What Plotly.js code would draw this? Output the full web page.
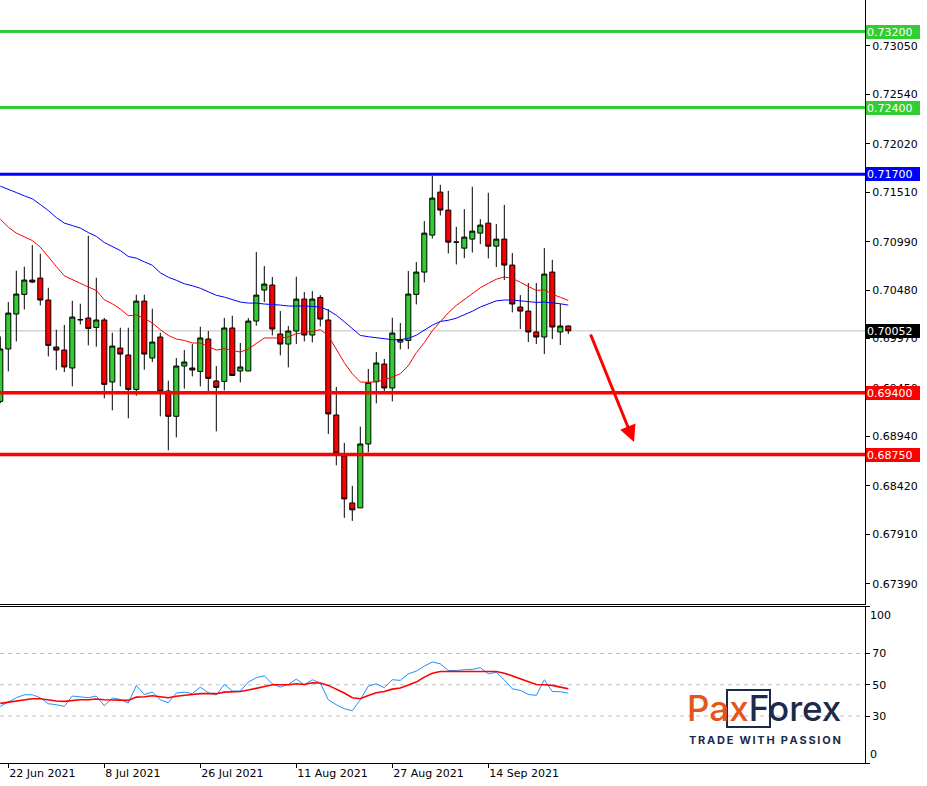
<!DOCTYPE html>
<html><head><meta charset="utf-8">
<script src="https://cdn.plot.ly/plotly-3.0.1.min.js"></script>
<style>html,body{margin:0;padding:0;background:#fff;}#chart{width:927px;height:786px;}</style>
</head><body><div id="chart"></div>
<script>
const dates = ['2021-06-21','2021-06-22','2021-06-23','2021-06-24','2021-06-25',
'2021-06-28','2021-06-29','2021-06-30','2021-07-01','2021-07-02',
'2021-07-05','2021-07-06','2021-07-07','2021-07-08','2021-07-09',
'2021-07-12','2021-07-13','2021-07-14','2021-07-15','2021-07-16',
'2021-07-19','2021-07-20','2021-07-21','2021-07-22','2021-07-23',
'2021-07-26','2021-07-27','2021-07-28','2021-07-29','2021-07-30',
'2021-08-02','2021-08-03','2021-08-04','2021-08-05','2021-08-06',
'2021-08-09','2021-08-10','2021-08-11','2021-08-12','2021-08-13',
'2021-08-16','2021-08-17','2021-08-18','2021-08-19','2021-08-20',
'2021-08-23','2021-08-24','2021-08-25','2021-08-26','2021-08-27',
'2021-08-30','2021-08-31','2021-09-01','2021-09-02','2021-09-03',
'2021-09-06','2021-09-07','2021-09-08','2021-09-09','2021-09-10',
'2021-09-13','2021-09-14','2021-09-15','2021-09-16','2021-09-17',
'2021-09-20','2021-09-21','2021-09-22','2021-09-23','2021-09-24',
'2021-09-27','2021-09-28'];

const openP = [0.69310,0.69861,0.70229,0.70435,0.70586,0.70607,0.70376,0.69882,0.69850,0.69661,
0.70169,0.70187,0.70088,0.70166,0.69514,0.69871,0.69798,0.69436,0.70365,0.69766,
0.69987,0.69419,0.69153,0.69682,0.69661,0.69625,0.69966,0.69525,0.69520,0.70082,
0.69630,0.69630,0.70155,0.70481,0.70534,0.70019,0.69913,0.70050,0.70386,0.70008,
0.70403,0.70166,0.69167,0.68736,0.68242,0.68190,0.68862,0.69517,0.69703,0.69451,
0.69934,0.69951,0.70435,0.70670,0.71059,0.71511,0.71322,0.70985,0.70922,0.71017,
0.71080,0.71185,0.70943,0.71017,0.70744,0.70302,0.70260,0.70040,0.69987,0.70670,
0.70040,0.70103];
const highP = [0.69993,0.70355,0.70684,0.70726,0.70954,0.70862,0.70505,0.70064,0.70113,0.70368,
0.70337,0.71052,0.70610,0.70187,0.70032,0.70085,0.70085,0.70432,0.70432,0.70284,
0.70032,0.69528,0.69766,0.69850,0.69913,0.70095,0.70050,0.69682,0.70187,0.70211,
0.69924,0.70187,0.70880,0.70733,0.70618,0.70260,0.70103,0.70621,0.70460,0.70470,
0.70428,0.70281,0.69462,0.68873,0.68421,0.69044,0.69651,0.69829,0.69756,0.70190,
0.70134,0.70681,0.70775,0.71206,0.71682,0.71588,0.71525,0.71146,0.71332,0.71567,
0.71227,0.71504,0.71175,0.71377,0.70870,0.70428,0.70555,0.70555,0.70922,0.70799,
0.70334,0.70108];
const lowP = [0.69291,0.69625,0.69941,0.70277,0.70555,0.70319,0.69783,0.69640,0.69619,0.69468,
0.70119,0.69899,0.69885,0.69342,0.69216,0.69468,0.69132,0.69370,0.69643,0.69724,
0.69153,0.68795,0.68932,0.69444,0.69573,0.69468,0.69415,0.68995,0.69426,0.69583,
0.69510,0.69630,0.70106,0.70355,0.70004,0.69794,0.69668,0.69913,0.69941,0.69930,
0.70098,0.68968,0.68638,0.68085,0.68053,0.68190,0.68774,0.69289,0.69415,0.69310,
0.69857,0.69861,0.70330,0.70561,0.71023,0.71265,0.70866,0.70750,0.70817,0.70876,
0.70964,0.70813,0.70723,0.70586,0.70246,0.70071,0.69934,0.69913,0.69808,0.69966,
0.69903,0.70019];
const closeP = [0.69861,0.70239,0.70439,0.70586,0.70565,0.70376,0.69899,0.69850,0.69672,0.70197,
0.70169,0.70077,0.70166,0.69489,0.69892,0.69808,0.69436,0.70365,0.69808,0.69934,
0.69415,0.69153,0.69682,0.69724,0.69640,0.69977,0.69552,0.69457,0.70082,0.69583,
0.69672,0.70155,0.70428,0.70544,0.70071,0.69913,0.70050,0.70386,0.70008,0.70386,
0.70176,0.69178,0.68764,0.68284,0.68169,0.68862,0.69510,0.69714,0.69451,0.70029,
0.69962,0.70439,0.70670,0.71080,0.71448,0.71322,0.70985,0.70985,0.71038,0.71101,
0.71164,0.70943,0.71017,0.70744,0.70334,0.70260,0.70040,0.69987,0.70649,0.70092,
0.70103,0.70052];

const maRed = [0.71227,0.71143,0.71080,0.71044,0.71002,0.70933,0.70828,0.70729,0.70631,0.70589,
0.70555,0.70513,0.70477,0.70379,0.70337,0.70281,0.70211,0.70218,0.70183,0.70134,
0.70064,0.70004,0.69966,0.69951,0.69924,0.69924,0.69888,0.69850,0.69864,0.69850,
0.69829,0.69861,0.69917,0.69977,0.69977,0.69977,0.69987,0.70022,0.70032,0.70046,
0.70064,0.70001,0.69854,0.69717,0.69601,0.69514,0.69510,0.69517,0.69538,0.69565,
0.69601,0.69685,0.69822,0.69927,0.70053,0.70151,0.70242,0.70319,0.70379,0.70442,
0.70505,0.70552,0.70595,0.70618,0.70605,0.70563,0.70516,0.70477,0.70484,0.70437,
0.70405,0.70372];
const maBlue = [0.71574,0.71543,0.71507,0.71472,0.71441,0.71381,0.71318,0.71244,0.71185,0.71160,
0.71133,0.71086,0.71046,0.70981,0.70939,0.70897,0.70834,0.70817,0.70778,0.70742,
0.70663,0.70616,0.70584,0.70547,0.70526,0.70500,0.70463,0.70426,0.70407,0.70379,
0.70355,0.70344,0.70344,0.70334,0.70330,0.70323,0.70313,0.70316,0.70313,0.70309,
0.70302,0.70269,0.70216,0.70148,0.70074,0.70004,0.69990,0.69977,0.69967,0.69959,
0.69959,0.69972,0.70006,0.70058,0.70111,0.70151,0.70163,0.70185,0.70218,0.70258,
0.70302,0.70337,0.70368,0.70376,0.70376,0.70368,0.70358,0.70351,0.70355,0.70347,
0.70337,0.70323];

const rsi = [36.2,38.9,41.7,43.6,43.6,41.7,37.9,37.2,36.2,42.8,
42.1,41.7,42.8,36.6,41.5,40.6,38.3,49.4,43.8,45.3,
40.4,38.5,44.7,45.3,44.3,48.5,44.9,43.4,50.2,46.0,
46.0,51.7,54.5,55.7,50.6,48.5,50.2,53.6,50.0,53.2,
51.1,40.4,37.2,34.7,33.4,40.4,49.1,50.6,48.1,53.2,
52.8,57.0,58.7,61.9,64.5,63.4,59.1,59.1,59.6,59.8,
60.9,57.0,57.9,53.2,47.4,46.4,43.8,43.2,53.2,45.7,
45.5,44.7];
const rsiSignal = [38.1,38.9,39.8,40.4,41.1,41.1,40.4,39.6,39.4,40.0,
40.4,40.4,40.9,40.4,40.4,40.4,40.0,42.1,42.3,43.0,
42.3,41.7,42.6,43.0,43.8,44.3,44.3,44.3,45.3,45.3,
45.7,46.6,47.9,49.1,50.0,50.0,50.0,50.6,50.2,51.3,
51.1,49.6,47.4,44.7,41.7,41.1,43.2,44.9,45.7,47.2,
47.9,49.6,51.7,54.9,57.4,58.5,58.5,58.5,58.5,58.9,
58.9,58.9,58.5,57.4,55.7,53.8,52.1,50.2,50.0,49.6,
48.5,47.4];

const xTickDates = ['2021-06-22','2021-07-08','2021-07-26','2021-08-11','2021-08-27','2021-09-14'];
const xTickLabels = ['22 Jun 2021','8 Jul 2021','26 Jul 2021','11 Aug 2021','27 Aug 2021','14 Sep 2021'];
const priceTicks = [0.67390,0.67910,0.68420,0.68940,0.69450,0.69970,0.70480,0.70990,0.71510,0.72020,0.72540,0.73050];
const levels = [0.7320,0.7240,0.7170,0.6940,0.6875];
const levelColors = ['#32CD32','#32CD32','#0000FF','#FF0000','#FF0000'];
const levelWidths = [3,3,3,3.5,3.5];
const lastPrice = 0.70052;
const rsiTicks = [0,30,50,70,100];
const rsiGrid = [30,50,70];

const W = 927, H = 786, mL = 0, mR = 62, mT = 0, mB = 23;
const plotH = H - mT - mB;             // 763
const mainBottom = (plotH - 603.5) / plotH;
const rsiTop = (plotH - 606.5) / plotH;
const pxPerBar = 8;
const plotW = W - mL - mR;
const xr0 = -0.3 / pxPerBar;
const xRange = [xr0, xr0 + plotW / pxPerBar];

const fontAxis = {family: 'DejaVu Sans, Tahoma, sans-serif', size: 11, color: '#000'};

const traces = [
  {type: 'candlestick', x: dates, open: openP, high: highP, low: lowP, close: closeP,
   xaxis: 'x2', yaxis: 'y', whiskerwidth: 0,
   increasing: {fillcolor: '#32CD32', line: {color: '#000', width: 1}},
   decreasing: {fillcolor: '#FF0000', line: {color: '#000', width: 1}},
   hoverinfo: 'skip', showlegend: false},
  {type: 'scatter', mode: 'lines', x: dates, y: maBlue, xaxis: 'x2', yaxis: 'y',
   line: {color: '#0000FF', width: 1}, hoverinfo: 'skip', showlegend: false},
  {type: 'scatter', mode: 'lines', x: dates, y: maRed, xaxis: 'x2', yaxis: 'y',
   line: {color: '#FF0000', width: 1}, hoverinfo: 'skip', showlegend: false},
  {type: 'scatter', mode: 'lines', x: dates, y: rsi, xaxis: 'x', yaxis: 'y2',
   line: {color: '#1E90FF', width: 1}, hoverinfo: 'skip', showlegend: false},
  {type: 'scatter', mode: 'lines', x: dates, y: rsiSignal, xaxis: 'x', yaxis: 'y2',
   line: {color: '#FF0000', width: 1.6}, hoverinfo: 'skip', showlegend: false}
];

const shapes = [];
shapes.push({type: 'line', xref: 'paper', yref: 'y', x0: 0, x1: 1, y0: lastPrice, y1: lastPrice,
  line: {color: '#C0C0C0', width: 1}, layer: 'below'});
levels.forEach((v, k) => shapes.push({type: 'line', xref: 'paper', yref: 'y', x0: 0, x1: 1, y0: v, y1: v,
  line: {color: levelColors[k], width: levelWidths[k]}, layer: 'above'}));
rsiGrid.forEach(v => shapes.push({type: 'line', xref: 'paper', yref: 'y2', x0: 0, x1: 1, y0: v, y1: v,
  line: {color: '#C0C0C0', width: 1, dash: '4px,4px'}, layer: 'below'}));
// logo frame around "xF"
shapes.push({type: 'rect', xref: 'paper', yref: 'paper',
  x0: 727 / plotW, x1: 770 / plotW, y0: (plotH - 727) / plotH, y1: (plotH - 690) / plotH,
  line: {color: '#1c2a4b', width: 2}, layer: 'above'});

const annotations = [];
const badge = (v, col) => ({xref: 'paper', yref: 'y', x: 1, y: v, xanchor: 'left', yanchor: 'middle', xshift: 1,
  text: v.toFixed(5), font: {family: 'DejaVu Sans, Tahoma, sans-serif', size: 11, color: '#fff'},
  bgcolor: col, showarrow: false, borderpad: 1, borderwidth: 0, width: 52, height: 12, align: 'left'});
levels.forEach((v, k) => annotations.push(badge(v, levelColors[k])));
annotations.push(badge(lastPrice, '#000'));
// RSI edge labels
annotations.push({xref: 'paper', yref: 'y2', x: 1, y: 94, xanchor: 'left', yanchor: 'middle', xshift: 3,
  text: '100', font: fontAxis, showarrow: false});
annotations.push({xref: 'paper', yref: 'y2', x: 1, y: 5.4, xanchor: 'left', yanchor: 'middle', xshift: 3,
  text: '0', font: fontAxis, showarrow: false});
// forecast arrow
annotations.push({xref: 'paper', yref: 'paper', x: 634 / plotW, y: (plotH - 442) / plotH,
  ax: -44, ay: -109, axref: 'pixel', ayref: 'pixel', text: '', showarrow: true,
  arrowcolor: '#FF0000', arrowwidth: 3, arrowhead: 2, arrowsize: 1.1, standoff: 0, startstandoff: 0});
// logo
annotations.push({xref: 'paper', yref: 'paper', x: 764 / plotW, y: (plotH - 708) / plotH,
  xanchor: 'center', yanchor: 'middle', showarrow: false,
  text: '<span style="color:#e4541b">Pax</span><span style="color:#1c2a4b">Forex</span>',
  font: {family: 'Inter, Open Sans, sans-serif', size: 35, weight: 500}});
annotations.push({xref: 'paper', yref: 'paper', x: 765 / plotW, y: (plotH - 740) / plotH,
  xanchor: 'center', yanchor: 'middle', showarrow: false,
  text: 'T\u2009R\u2009A\u2009D\u2009E\u2009 \u2009W\u2009I\u2009T\u2009H\u2009 \u2009P\u2009A\u2009S\u2009S\u2009I\u2009O\u2009N',
  font: {family: 'Inter, Open Sans, sans-serif', size: 11, weight: 700, color: '#1c2a4b'}});

const layout = {
  width: W, height: H, margin: {l: mL, r: mR, t: mT, b: mB, pad: 0},
  paper_bgcolor: '#fff', plot_bgcolor: '#fff', showlegend: false, hovermode: false,
  boxgap: 0.3, boxgroupgap: 0.1,
  xaxis: {type: 'category', domain: [0, 1], anchor: 'y2', range: xRange,
    tickmode: 'array', tickvals: xTickDates, ticktext: xTickLabels, ticklabelposition: 'outside right',
    ticks: 'outside', ticklen: 4, tickcolor: '#000', tickfont: fontAxis,
    showline: true, linecolor: '#000', linewidth: 1, mirror: true, showgrid: false, zeroline: false,
    rangeslider: {visible: false}, fixedrange: true},
  xaxis2: {type: 'category', domain: [0, 1], anchor: 'y', matches: 'x', range: xRange,
    showticklabels: false, ticks: '', showline: true, linecolor: '#000', linewidth: 1,
    showgrid: false, zeroline: false, rangeslider: {visible: false}, fixedrange: true},
  yaxis: {domain: [mainBottom, 1], anchor: 'x2', side: 'right', range: [0.67184, 0.73532],
    tickmode: 'array', tickvals: priceTicks, tickformat: '.5f',
    ticks: 'outside', ticklen: 4, tickcolor: '#000', tickfont: fontAxis,
    showline: true, linecolor: '#000', linewidth: 1, showgrid: false, zeroline: false, fixedrange: true},
  yaxis2: {domain: [0, rsiTop], anchor: 'x', side: 'right', range: [0, 100],
    tickmode: 'array', tickvals: rsiTicks, ticktext: ['', '30', '50', '70', ''],
    ticks: 'outside', ticklen: 4, tickcolor: '#000', tickfont: fontAxis,
    showline: true, linecolor: '#000', linewidth: 1, showgrid: false, zeroline: false, fixedrange: true},
  shapes: shapes, annotations: annotations
};

Plotly.newPlot('chart', traces, layout, {staticPlot: true, displayModeBar: false});
</script>
</body></html>
